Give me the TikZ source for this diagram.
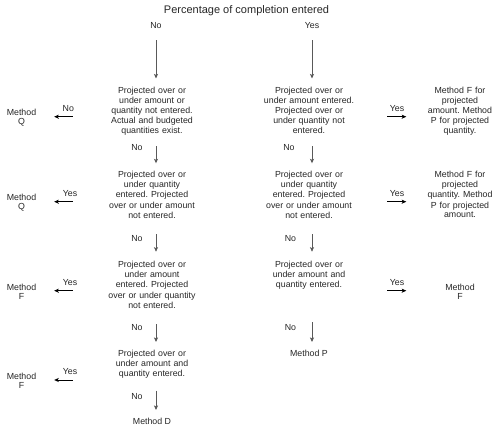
\documentclass[tikz,border=0pt]{standalone}
\usepackage{fontspec}
\setmainfont{Liberation Sans}
\usetikzlibrary{arrows.meta}
\newcommand\fs{\fontsize{8.8}{9.1}\selectfont\frenchspacing}
\newcommand\nl{\\\strut}
\begin{document}
\begin{tikzpicture}[x=1pt,y=-1pt,
  txt/.style={font=\fs, align=center, inner sep=0pt, text=black!85, execute at begin node=\strut},
  colbox/.style={txt, text width=92pt, anchor=north},
  methbox/.style={txt, text width=70pt, anchor=north},
  lmeth/.style={txt, text width=36pt, anchor=north},
  lab/.style={font=\fs, inner sep=0pt, anchor=base, text=black!85},
  varr/.style={draw=black!65, line width=0.7pt, -{Stealth[length=4.5pt,width=4pt,inset=1pt]}},
  harr/.style={draw=black, line width=0.9pt, -{Stealth[length=4.5pt,width=4pt,inset=1pt]}}
]
\useasboundingbox (0,0) rectangle (499,429);
\node[font=\fontsize{11}{13}\selectfont, inner sep=0pt, anchor=base, text=black!85] (title) at (246.5,13.2) {Percentage of completion entered};

% top labels
\node[txt, anchor=north] (topNo) at (156,22.3) {No};
\node[txt, anchor=north] (topYes) at (312,22.3) {Yes};

% row 1
\node[colbox] (r1L) at (152,86.8) {Projected over or\nl under amount or\nl quantity not entered.\nl Actual and budgeted\nl quantities exist.};
\node[colbox] (r1R) at (309,86.8) {Projected over or\nl under amount entered.\nl Projected over or\nl under quantity not\nl entered.};
\node[methbox] (m1R) at (460,86.8) {Method F for\nl projected\nl amount. Method\nl P for projected\nl quantity.};
\node[lmeth] (m1L) at (21.5,109.1) {Method\nl Q};

% row 2
\node[colbox] (r2L) at (152,171.1) {Projected over or\nl under quantity\nl entered. Projected\nl over or under amount\nl not entered.};
\node[colbox] (r2R) at (309,171.1) {Projected over or\nl under quantity\nl entered. Projected\nl over or under amount\nl not entered.};
\node[methbox] (m2R) at (460,171.1) {Method F for\nl projected\nl quantity. Method\nl P for projected\nl amount.};
\node[lmeth] (m2L) at (21.5,193.5) {Method\nl Q};

% row 3
\node[colbox] (r3L) at (152,261.1) {Projected over or\nl under amount\nl entered. Projected\nl over or under quantity\nl not entered.};
\node[colbox] (r3R) at (309,261.1) {Projected over or\nl under amount and\nl quantity entered.};
\node[methbox] (m3R) at (460,283.5) {Method\nl F};
\node[lmeth] (m3L) at (21.5,283.5) {Method\nl F};

% row 4
\node[colbox] (r4L) at (152,350.1) {Projected over or\nl under amount and\nl quantity entered.};
\node[lmeth] (m4L) at (21.5,372.8) {Method\nl F};
\node[txt, anchor=north] (mP) at (309,350.1) {Method P};
\node[txt, anchor=north] (mD) at (152,417.5) {Method D};

% vertical connectors
\draw[varr, shorten <=8.6pt, shorten >=8.3pt] (topNo.south) -- ([xshift=4pt]r1L.north);
\draw[varr, shorten <=8.6pt, shorten >=8.3pt] (topYes.south) -- ([xshift=3pt]r1R.north);
\draw[varr, shorten <=9.4pt, shorten >=7.8pt] ([xshift=4pt]r1L.south) -- ([xshift=4pt]r2L.north);
\draw[varr, shorten <=9.4pt, shorten >=7.8pt] ([xshift=3pt]r1R.south) -- ([xshift=3pt]r2R.north);
\draw[varr, shorten <=13.4pt, shorten >=9.4pt] ([xshift=4pt]r2L.south) -- ([xshift=4pt]r3L.north);
\draw[varr, shorten <=13.4pt, shorten >=9.4pt] ([xshift=3pt]r2R.south) -- ([xshift=3pt]r3R.north);
\draw[varr, shorten <=13.4pt, shorten >=8.1pt] ([xshift=4pt]r3L.south) -- ([xshift=4pt]r4L.north);
\draw[varr, shorten <=31.6pt, shorten >=8.1pt] ([xshift=3pt]r3R.south) -- ([xshift=3pt]mP.north);
\draw[varr, shorten <=10.9pt, shorten >=7.5pt] ([xshift=4pt]r4L.south) -- ([xshift=4pt]mD.north);

% vertical labels
\node[lab] (n12L) at (137,150.6) {No};
\node[lab] (n12R) at (289,150.6) {No};
\node[lab] (n23L) at (137,241.4) {No};
\node[lab] (n23R) at (290.5,241.4) {No};
\node[lab] (n34L) at (137,330.4) {No};
\node[lab] (n34R) at (290.5,330.4) {No};
\node[lab] (n4D) at (137,399.1) {No};

% horizontal connectors
\coordinate (h1) at (0,116.7);
\coordinate (h2) at (0,201.7);
\coordinate (h3) at (0,290.7);
\coordinate (h4) at (0,380);
\draw[harr, shorten <=33pt, shorten >=14.5pt] (r1L.west |- h1) -- (m1L.east |- h1);
\draw[harr, shorten <=33pt, shorten >=14.5pt] (r2L.west |- h2) -- (m2L.east |- h2);
\draw[harr, shorten <=33pt, shorten >=14.5pt] (r3L.west |- h3) -- (m3L.east |- h3);
\draw[harr, shorten <=33pt, shorten >=14.5pt] (r4L.west |- h4) -- (m4L.east |- h4);
\draw[harr, shorten <=32pt, shorten >=18.5pt] (r1R.east |- h1) -- (m1R.west |- h1);
\draw[harr, shorten <=32pt, shorten >=18.5pt] (r2R.east |- h2) -- (m2R.west |- h2);
\draw[harr, shorten <=32pt, shorten >=18.5pt] (r3R.east |- h3) -- (m3R.west |- h3);

% horizontal labels
\node[lab] (y1L) at (68.3,111.3) {No};
\node[lab] (y2L) at (70,196.3) {Yes};
\node[lab] (y3L) at (70,285.3) {Yes};
\node[lab] (y4L) at (70,374.6) {Yes};
\node[lab] (y1R) at (397,111.3) {Yes};
\node[lab] (y2R) at (397,196.3) {Yes};
\node[lab] (y3R) at (397,285.3) {Yes};
\end{tikzpicture}
\end{document}
